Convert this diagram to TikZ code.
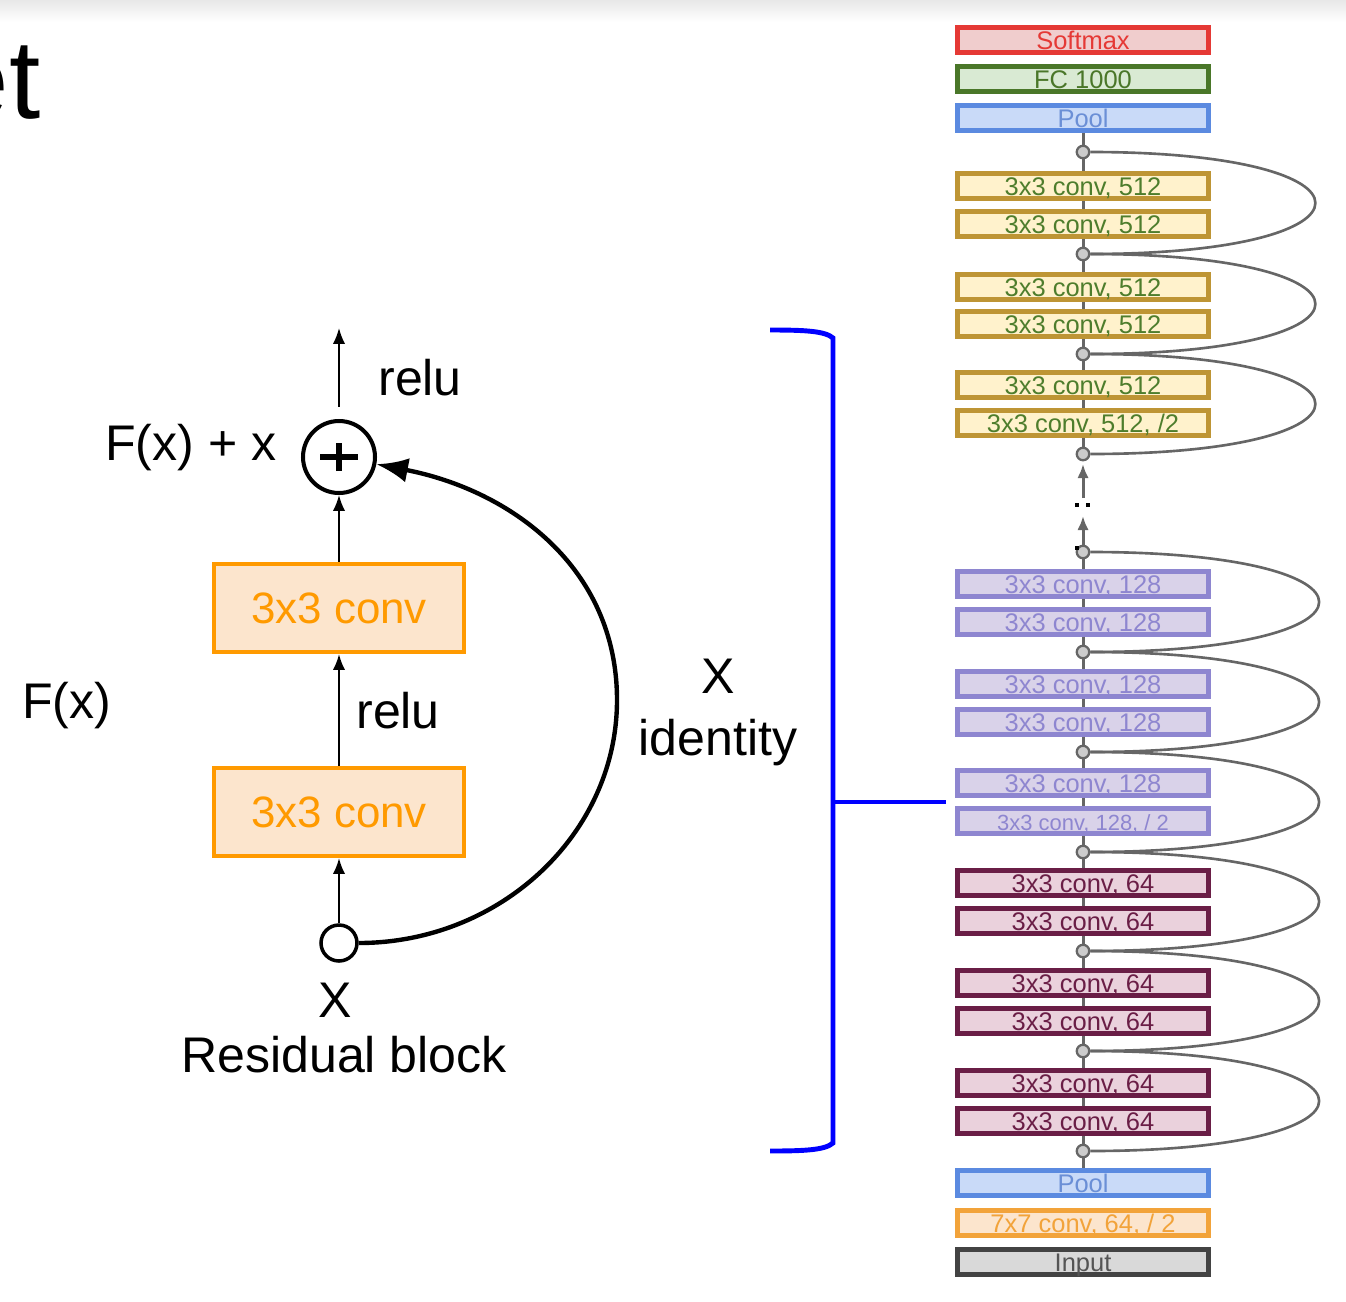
\documentclass[tikz,border=0pt]{standalone}
\usepackage{fontspec}
\setmainfont{Liberation Sans}
\usetikzlibrary{arrows.meta}

\definecolor{smred}{HTML}{E53935}
\definecolor{smfill}{HTML}{F0CDCD}
\definecolor{fcgreen}{HTML}{4A7729}
\definecolor{fcfill}{HTML}{D9EAD3}
\definecolor{poolblue}{HTML}{5B8AE0}
\definecolor{poolfill}{HTML}{C9DAF8}
\definecolor{pooltext}{HTML}{6B8FD6}
\definecolor{goldline}{HTML}{BE9535}
\definecolor{goldfill}{HTML}{FFF2CC}
\definecolor{goldtext}{HTML}{4E7D2C}
\definecolor{lilac}{HTML}{8E86D0}
\definecolor{lilacfill}{HTML}{D9D2E9}
\definecolor{plum}{HTML}{6A1E46}
\definecolor{plumfill}{HTML}{EAD1DC}
\definecolor{peach}{HTML}{F2A33A}
\definecolor{peachfill}{HTML}{FCE5CD}
\definecolor{inline}{HTML}{434343}
\definecolor{infill}{HTML}{D9D9D9}
\definecolor{intext}{HTML}{555555}
\definecolor{resorange}{HTML}{FF9A00}
\definecolor{linkgray}{HTML}{666666}
\definecolor{juncgray}{HTML}{CCCCCC}

\begin{document}
\begin{tikzpicture}[x=0.02cm, y=-0.02cm,
		netbox/.style={draw, line width=2.6pt, minimum width=5.02cm, minimum height=0.5cm, inner sep=0pt, text height=10.4pt, text depth=0pt, font=\fontsize{14.5}{16}\selectfont},
		softbox/.style={netbox, draw=smred, fill=smfill, text=smred},
		fcbox/.style={netbox, draw=fcgreen, fill=fcfill, text=fcgreen},
		poolbox/.style={netbox, draw=poolblue, fill=poolfill, text=pooltext},
		box512/.style={netbox, draw=goldline, fill=goldfill, text=goldtext},
		box128/.style={netbox, draw=lilac, fill=lilacfill, text=lilac},
		box64/.style={netbox, draw=plum, fill=plumfill, text=plum},
		box7/.style={netbox, draw=peach, fill=peachfill, text=peach},
		inbox/.style={netbox, draw=inline, fill=infill, text=intext},
		junc/.style={circle, draw=linkgray, fill=juncgray, line width=1.3pt, minimum size=0.25cm, inner sep=0pt},
		link/.style={draw=linkgray, line width=1.7pt},
		skip/.style={draw=linkgray, line width=1.5pt},
		resbox/.style={draw=resorange, fill=peachfill, text=resorange, line width=2.4pt, minimum width=5cm, minimum height=1.76cm, inner sep=0pt, text height=17.9pt, text depth=0pt, font=\fontsize{25}{28}\selectfont},
		bigtext/.style={inner sep=0pt, font=\fontsize{28.5}{32}\selectfont},
		thinarrow/.style={line width=1.1pt, -{Latex[length=9pt, width=7pt]}}]
			%%%%% START %%%%%
			
			\useasboundingbox (0, 0) rectangle (1346, 1302);
			\shade[top color=gray!18, bottom color=white] (0, 0) rectangle (1346, 22);
			
			\node[inner sep=0pt, anchor=base east, font=\fontsize{64}{70}\selectfont] (title) at (41, 118) {et};
			
			% residual block
			\node[resbox] (conva) at (339, 812) {3x3 conv};
			\node[resbox] (convb) at (339, 608) {3x3 conv};
			\node[circle, draw, line width=2.3pt, minimum size=1.44cm, inner sep=0pt] (plus) at (339, 457) {};
			\draw[line width=3.4pt] ([xshift=-0.38cm]plus.center) -- ([xshift=0.38cm]plus.center);
			\draw[line width=3.4pt] ([yshift=-0.28cm]plus.center) -- ([yshift=0.28cm]plus.center);
			\node[circle, draw, line width=2pt, fill=white, minimum size=0.72cm, inner sep=0pt] (xin) at (339, 943) {};
			\coordinate (out) at (339, 328);
			\coordinate (bend) at (617, 700);
			
			\draw[thinarrow] (xin) -- (conva);
			\draw[thinarrow] (conva) -- (convb);
			\draw[thinarrow] (convb) -- (plus);
			\draw[thinarrow, shorten <=0.24cm] (plus) -- (out);
			\draw[line width=2.5pt, -{Latex[length=18pt, width=14pt]}] (xin.east) .. controls (500, 943) and (617, 834) .. (bend) .. controls (617, 567) and (510, 490) .. (plus);
			
			\node[bigtext, anchor=base west] (relutop) at (378, 395) {relu};
			\node[bigtext, anchor=base west] (sum) at (105, 460) {F(x) + x};
			\node[bigtext, anchor=base west] (relumid) at (356, 728) {relu};
			\node[bigtext, anchor=base west] (fx) at (22, 718) {F(x)};
			\node[bigtext, anchor=base] (xlabel) at (335, 1017) {X};
			\node[bigtext, anchor=base] (caption) at (344, 1072) {Residual block};
			\node[bigtext, anchor=base] (xright) at (718, 693) {X};
			\node[bigtext, anchor=base] (ident) at (718, 755) {identity};
			
			% bracket
			\draw[blue, line width=2.8pt] (770, 330) .. controls (805, 330) and (825, 331) .. (833, 338) -- (833, 1143) .. controls (825, 1150) and (805, 1151) .. (770, 1151);
			\draw[blue, line width=2.8pt] (833, 802) -- (946, 802);
			
			% network column
			\node[softbox] (soft) at (1083, 40) {Softmax};
			\node[fcbox] (fc) at (1083, 79) {FC 1000};
			\node[poolbox] (pooltop) at (1083, 118) {Pool};
			
			\node[junc] (j1) at (1083, 152) {};
			\node[box512] (c1) at (1083, 186) {3x3 conv, 512};
			\node[box512] (c2) at (1083, 224) {3x3 conv, 512};
			\node[junc] (j2) at (1083, 254) {};
			\node[box512] (c3) at (1083, 287) {3x3 conv, 512};
			\node[box512] (c4) at (1083, 324) {3x3 conv, 512};
			\node[junc] (j3) at (1083, 354) {};
			\node[box512] (c5) at (1083, 385) {3x3 conv, 512};
			\node[box512] (c6) at (1083, 423) {3x3 conv, 512, /2};
			\node[junc] (j4) at (1083, 454) {};
			
			\node[junc] (j5) at (1083, 552) {};
			\node[box128] (d1) at (1083, 584) {3x3 conv, 128};
			\node[box128] (d2) at (1083, 622) {3x3 conv, 128};
			\node[junc] (j6) at (1083, 652) {};
			\node[box128] (d3) at (1083, 684) {3x3 conv, 128};
			\node[box128] (d4) at (1083, 722) {3x3 conv, 128};
			\node[junc] (j7) at (1083, 752) {};
			\node[box128] (d5) at (1083, 783) {3x3 conv, 128};
			\node[box128, font=\fontsize{12.5}{14}\selectfont] (d6) at (1083, 821) {3x3 conv, 128, / 2};
			\node[junc] (j8) at (1083, 852) {};
			\node[box64] (e1) at (1083, 883) {3x3 conv, 64};
			\node[box64] (e2) at (1083, 921) {3x3 conv, 64};
			\node[junc] (j9) at (1083, 951) {};
			\node[box64] (e3) at (1083, 983) {3x3 conv, 64};
			\node[box64] (e4) at (1083, 1021) {3x3 conv, 64};
			\node[junc] (j10) at (1083, 1051) {};
			\node[box64] (e5) at (1083, 1083) {3x3 conv, 64};
			\node[box64] (e6) at (1083, 1121) {3x3 conv, 64};
			\node[junc] (j11) at (1083, 1151) {};
			
			\node[poolbox] (poolbot) at (1083, 1183) {Pool};
			\node[box7] (conv7) at (1083, 1223) {7x7 conv, 64, / 2};
			\node[inbox] (inp) at (1083, 1262) {Input};
			
			\draw[link] (pooltop) -- (j1) -- (c1) -- (c2) -- (j2) -- (c3) -- (c4) -- (j3) -- (c5) -- (c6) -- (j4);
			\draw[link] (j5) -- (d1) -- (d2) -- (j6) -- (d3) -- (d4) -- (j7) -- (d5) -- (d6) -- (j8) -- (e1) -- (e2) -- (j9) -- (e3) -- (e4) -- (j10) -- (e5) -- (e6) -- (j11) -- (poolbot);
			
			\coordinate (dtop) at (1083, 498);
			\coordinate (dbot) at (1083, 516);
			\draw[link, -{Latex[length=8pt, width=6.5pt]}, shorten >=1.5pt] (dtop) -- (j4);
			\draw[link, -{Latex[length=8pt, width=6.5pt]}] (j5) -- (dbot);
			\fill (1075, 503) rectangle (1079, 507);
			\fill (1086, 503) rectangle (1090, 507);
			\fill (1075, 546) rectangle (1079, 550);
			
			\draw[skip] (j1.east) .. controls +(300, 0) and +(300, 0) .. (j2.east);
			\draw[skip] (j2.east) .. controls +(300, 0) and +(300, 0) .. (j3.east);
			\draw[skip] (j3.east) .. controls +(300, 0) and +(300, 0) .. (j4.east);
			\draw[skip] (j5.east) .. controls +(305, 0) and +(305, 0) .. (j6.east);
			\draw[skip] (j6.east) .. controls +(305, 0) and +(305, 0) .. (j7.east);
			\draw[skip] (j7.east) .. controls +(305, 0) and +(305, 0) .. (j8.east);
			\draw[skip] (j8.east) .. controls +(305, 0) and +(305, 0) .. (j9.east);
			\draw[skip] (j9.east) .. controls +(305, 0) and +(305, 0) .. (j10.east);
			\draw[skip] (j10.east) .. controls +(305, 0) and +(305, 0) .. (j11.east);
			
			%%%%% END %%%%%
		\end{tikzpicture}
\end{document}
